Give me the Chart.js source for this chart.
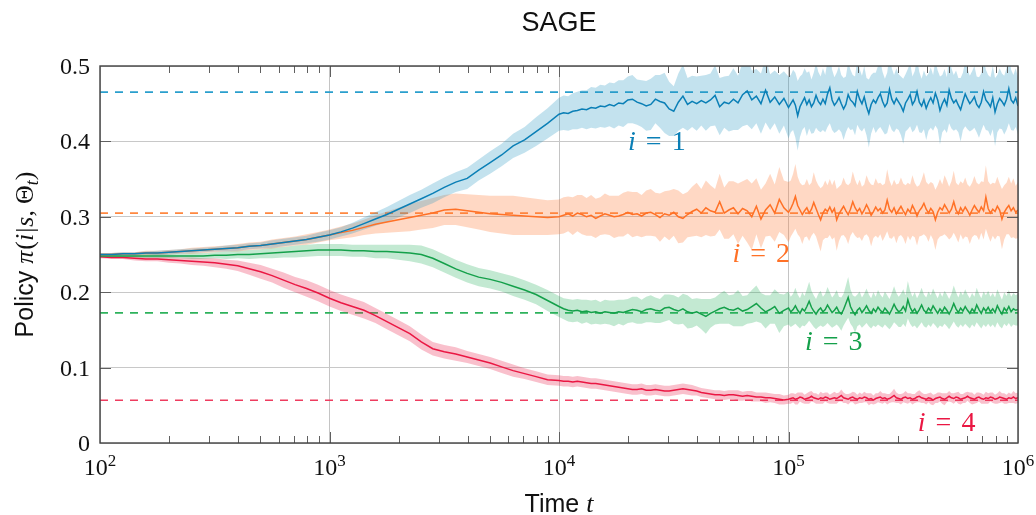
<!DOCTYPE html>
<html>
<head>
<meta charset="utf-8">
<title>SAGE</title>
<script src="https://cdn.jsdelivr.net/npm/chart.js@4.4.1/dist/chart.umd.min.js"></script>
<style>
  html, body { margin: 0; padding: 0; background: #fff; }
  #wrap { width: 1036px; height: 515px; }
</style>
</head>
<body>
<div id="wrap"><canvas id="policyCanvas" width="1036" height="515"></canvas></div>
<script>
(function () {
  "use strict";

  // log10 of time t; coarse while the curves are smooth, finer where they get noisy
  const logTime = [
    2.00, 2.05, 2.10, 2.15, 2.20, 2.25, 2.30, 2.35, 2.40, 2.45,
    2.50, 2.55, 2.60, 2.65, 2.70, 2.75, 2.80, 2.85, 2.90, 2.95,
    3.00, 3.05, 3.10, 3.15, 3.20, 3.25, 3.30, 3.35, 3.40, 3.45,
    3.50, 3.55, 3.60, 3.65, 3.70, 3.75, 3.80, 3.85, 3.90, 3.95,
    4.00, 4.02, 4.04, 4.06, 4.08, 4.10, 4.12, 4.14, 4.16, 4.18,
    4.20, 4.22, 4.24, 4.26, 4.28, 4.30, 4.32, 4.34, 4.36, 4.38,
    4.40, 4.42, 4.44, 4.46, 4.48, 4.50, 4.52, 4.54, 4.56, 4.58,
    4.60, 4.62, 4.64, 4.66, 4.68, 4.70, 4.72, 4.74, 4.76, 4.78,
    4.80, 4.82, 4.84, 4.86, 4.88, 4.90, 4.92, 4.94, 4.96, 4.98,
    5.00, 5.01, 5.02, 5.03, 5.04, 5.05, 5.06, 5.07, 5.08, 5.09,
    5.10, 5.11, 5.12, 5.13, 5.14, 5.15, 5.16, 5.17, 5.18, 5.19,
    5.20, 5.21, 5.22, 5.23, 5.24, 5.25, 5.26, 5.27, 5.28, 5.29,
    5.30, 5.31, 5.32, 5.33, 5.34, 5.35, 5.36, 5.37, 5.38, 5.39,
    5.40, 5.41, 5.42, 5.43, 5.44, 5.45, 5.46, 5.47, 5.48, 5.49,
    5.50, 5.51, 5.52, 5.53, 5.54, 5.55, 5.56, 5.57, 5.58, 5.59,
    5.60, 5.61, 5.62, 5.63, 5.64, 5.65, 5.66, 5.67, 5.68, 5.69,
    5.70, 5.71, 5.72, 5.73, 5.74, 5.75, 5.76, 5.77, 5.78, 5.79,
    5.80, 5.81, 5.82, 5.83, 5.84, 5.85, 5.86, 5.87, 5.88, 5.89,
    5.90, 5.91, 5.92, 5.93, 5.94, 5.95, 5.96, 5.97, 5.98, 5.99,
    6.00
  ];

  // i = 1
  const mean1 = [
    0.250, 0.250, 0.251, 0.251, 0.252, 0.252, 0.253, 0.254, 0.255, 0.256,
    0.257, 0.258, 0.259, 0.261, 0.262, 0.264, 0.266, 0.268, 0.270, 0.273,
    0.276, 0.280, 0.285, 0.291, 0.297, 0.303, 0.310, 0.317, 0.324, 0.331,
    0.339, 0.346, 0.351, 0.362, 0.372, 0.382, 0.394, 0.402, 0.413, 0.424,
    0.436, 0.438, 0.437, 0.440, 0.441, 0.443, 0.442, 0.445, 0.444, 0.447,
    0.446, 0.449, 0.447, 0.451, 0.450, 0.455, 0.456, 0.452, 0.450, 0.447,
    0.449, 0.456, 0.453, 0.451, 0.443, 0.440, 0.452, 0.460, 0.449, 0.453,
    0.450, 0.454, 0.451, 0.455, 0.461, 0.446, 0.452, 0.450, 0.456, 0.451,
    0.462, 0.467, 0.455, 0.460, 0.450, 0.468, 0.452, 0.459, 0.449, 0.457,
    0.445, 0.450, 0.455, 0.448, 0.434, 0.446, 0.452, 0.458, 0.449, 0.455,
    0.446, 0.451, 0.461, 0.453, 0.449, 0.456, 0.450, 0.463, 0.471, 0.455,
    0.448, 0.452, 0.458, 0.450, 0.443, 0.449, 0.462, 0.455, 0.452, 0.447,
    0.466, 0.456, 0.450, 0.459, 0.446, 0.437, 0.449, 0.455, 0.451, 0.458,
    0.463, 0.453, 0.446, 0.451, 0.469, 0.456, 0.450, 0.457, 0.452, 0.447,
    0.440, 0.451, 0.456, 0.462, 0.449, 0.454, 0.466, 0.452, 0.447, 0.455,
    0.444, 0.452, 0.458, 0.451, 0.464, 0.455, 0.441, 0.450, 0.456, 0.448,
    0.468, 0.457, 0.451, 0.455, 0.448, 0.442, 0.453, 0.463, 0.456, 0.450,
    0.454, 0.459, 0.449, 0.445, 0.452, 0.466, 0.455, 0.451, 0.446, 0.458,
    0.439, 0.450, 0.457, 0.453, 0.448, 0.456, 0.470, 0.455, 0.451, 0.458,
    0.447
  ];
  const spread1 = [
    0.002, 0.002, 0.002, 0.002, 0.002, 0.003, 0.003, 0.003, 0.003, 0.003,
    0.003, 0.004, 0.004, 0.004, 0.004, 0.005, 0.005, 0.005, 0.005, 0.006,
    0.006, 0.006, 0.007, 0.008, 0.009, 0.010, 0.011, 0.012, 0.012, 0.013,
    0.013, 0.013, 0.014, 0.014, 0.015, 0.015, 0.016, 0.017, 0.019, 0.020,
    0.022, 0.023, 0.023, 0.024, 0.025, 0.025, 0.026, 0.027, 0.027, 0.028,
    0.028, 0.029, 0.030, 0.030, 0.031, 0.031, 0.032, 0.030, 0.031, 0.033,
    0.034, 0.032, 0.035, 0.040, 0.036, 0.033, 0.038, 0.042, 0.035, 0.034,
    0.036, 0.033, 0.037, 0.035, 0.040, 0.038, 0.034, 0.037, 0.041, 0.036,
    0.042, 0.045, 0.039, 0.036, 0.040, 0.043, 0.037, 0.035, 0.039, 0.036,
    0.041, 0.038, 0.040, 0.043, 0.046, 0.040, 0.037, 0.039, 0.042, 0.038,
    0.036, 0.040, 0.043, 0.039, 0.037, 0.041, 0.038, 0.044, 0.047, 0.040,
    0.037, 0.039, 0.042, 0.038, 0.041, 0.037, 0.043, 0.040, 0.036, 0.039,
    0.044, 0.040, 0.037, 0.041, 0.038, 0.045, 0.039, 0.036, 0.040, 0.042,
    0.044, 0.039, 0.037, 0.040, 0.046, 0.041, 0.038, 0.040, 0.037, 0.039,
    0.043, 0.038, 0.040, 0.042, 0.037, 0.039, 0.044, 0.040, 0.036, 0.039,
    0.042, 0.038, 0.040, 0.037, 0.043, 0.039, 0.045, 0.038, 0.040, 0.037,
    0.044, 0.040, 0.037, 0.039, 0.036, 0.042, 0.038, 0.043, 0.040, 0.037,
    0.039, 0.041, 0.037, 0.040, 0.038, 0.044, 0.040, 0.037, 0.039, 0.042,
    0.045, 0.038, 0.040, 0.037, 0.039, 0.041, 0.046, 0.040, 0.037, 0.039,
    0.038
  ];

  // i = 2
  const mean2 = [
    0.250, 0.250, 0.251, 0.251, 0.252, 0.252, 0.253, 0.254, 0.255, 0.256,
    0.257, 0.258, 0.259, 0.261, 0.262, 0.264, 0.266, 0.268, 0.270, 0.273,
    0.276, 0.279, 0.282, 0.286, 0.290, 0.293, 0.296, 0.299, 0.302, 0.305,
    0.309, 0.310, 0.308, 0.306, 0.304, 0.303, 0.302, 0.301, 0.300, 0.299,
    0.300, 0.302, 0.304, 0.301, 0.305, 0.303, 0.300, 0.302, 0.298, 0.301,
    0.304, 0.302, 0.300, 0.301, 0.303, 0.306, 0.303, 0.304, 0.301, 0.305,
    0.306, 0.303, 0.299, 0.304, 0.302, 0.306, 0.300, 0.298, 0.303, 0.307,
    0.310, 0.305, 0.312, 0.308, 0.306, 0.320, 0.305, 0.309, 0.312, 0.304,
    0.311, 0.308, 0.300, 0.314, 0.297, 0.309, 0.316, 0.305, 0.323, 0.312,
    0.306, 0.311, 0.318, 0.327, 0.315, 0.309, 0.303, 0.308, 0.312, 0.305,
    0.310, 0.319, 0.311, 0.303, 0.296, 0.305, 0.310, 0.307, 0.313, 0.306,
    0.311, 0.296, 0.304, 0.309, 0.314, 0.308, 0.303, 0.310, 0.320, 0.312,
    0.307, 0.311, 0.304, 0.309, 0.316, 0.310, 0.302, 0.307, 0.313, 0.308,
    0.311, 0.305, 0.309, 0.322, 0.310, 0.306, 0.312, 0.304, 0.309, 0.314,
    0.308, 0.303, 0.310, 0.306, 0.315, 0.309, 0.301, 0.308, 0.312, 0.318,
    0.310, 0.305, 0.311, 0.307, 0.296, 0.306, 0.312, 0.309, 0.316, 0.311,
    0.305, 0.310, 0.320, 0.309, 0.304, 0.312, 0.307, 0.313, 0.308, 0.302,
    0.309, 0.315, 0.310, 0.306, 0.313, 0.308, 0.326, 0.311, 0.305, 0.310,
    0.307, 0.314, 0.309, 0.297, 0.306, 0.311, 0.315, 0.308, 0.312, 0.306,
    0.309
  ];
  const spread2 = [
    0.002, 0.002, 0.002, 0.002, 0.003, 0.003, 0.003, 0.003, 0.004, 0.004,
    0.004, 0.004, 0.005, 0.005, 0.005, 0.006, 0.006, 0.006, 0.007, 0.007,
    0.007, 0.008, 0.009, 0.010, 0.012, 0.014, 0.016, 0.018, 0.019, 0.020,
    0.020, 0.021, 0.022, 0.023, 0.024, 0.025, 0.026, 0.025, 0.024, 0.023,
    0.023, 0.024, 0.023, 0.025, 0.024, 0.026, 0.025, 0.027, 0.026, 0.025,
    0.027, 0.026, 0.028, 0.027, 0.029, 0.028, 0.030, 0.029, 0.028, 0.030,
    0.031, 0.029, 0.032, 0.030, 0.033, 0.031, 0.035, 0.032, 0.030, 0.033,
    0.035, 0.032, 0.036, 0.034, 0.031, 0.037, 0.034, 0.038, 0.035, 0.040,
    0.036, 0.042, 0.044, 0.037, 0.039, 0.035, 0.041, 0.038, 0.043, 0.036,
    0.040, 0.037, 0.039, 0.043, 0.038, 0.036, 0.039, 0.035, 0.038, 0.037,
    0.035, 0.040, 0.037, 0.039, 0.042, 0.036, 0.038, 0.035, 0.037, 0.036,
    0.038, 0.041, 0.036, 0.034, 0.038, 0.036, 0.039, 0.035, 0.040, 0.037,
    0.035, 0.038, 0.036, 0.034, 0.039, 0.037, 0.041, 0.035, 0.038, 0.036,
    0.034, 0.037, 0.035, 0.041, 0.038, 0.035, 0.037, 0.039, 0.035, 0.038,
    0.036, 0.039, 0.035, 0.037, 0.040, 0.036, 0.039, 0.034, 0.037, 0.041,
    0.036, 0.038, 0.035, 0.037, 0.040, 0.036, 0.038, 0.034, 0.039, 0.037,
    0.035, 0.037, 0.041, 0.036, 0.038, 0.035, 0.037, 0.039, 0.035, 0.038,
    0.036, 0.039, 0.035, 0.037, 0.034, 0.038, 0.042, 0.036, 0.038, 0.035,
    0.037, 0.039, 0.035, 0.040, 0.036, 0.034, 0.038, 0.036, 0.039, 0.035,
    0.037
  ];

  // i = 3
  const mean3 = [
    0.248, 0.248, 0.248, 0.248, 0.248, 0.248, 0.248, 0.248, 0.248, 0.248,
    0.249, 0.249, 0.250, 0.250, 0.251, 0.252, 0.253, 0.254, 0.255, 0.256,
    0.256, 0.256, 0.255, 0.255, 0.254, 0.254, 0.253, 0.252, 0.250, 0.245,
    0.238, 0.231, 0.225, 0.220, 0.217, 0.213, 0.208, 0.203, 0.197, 0.189,
    0.181, 0.178, 0.176, 0.175, 0.176, 0.174, 0.175, 0.173, 0.174, 0.172,
    0.174, 0.173, 0.172, 0.174, 0.173, 0.175, 0.177, 0.176, 0.174, 0.177,
    0.178, 0.176, 0.175, 0.179, 0.180, 0.177, 0.175, 0.178, 0.174, 0.172,
    0.174, 0.171, 0.168, 0.172, 0.175, 0.178, 0.180, 0.177, 0.176, 0.179,
    0.175, 0.177, 0.181, 0.185, 0.179, 0.174, 0.177, 0.181, 0.172, 0.176,
    0.179, 0.174, 0.177, 0.182, 0.176, 0.172, 0.178, 0.175, 0.181, 0.188,
    0.180, 0.175, 0.171, 0.176, 0.179, 0.174, 0.177, 0.183, 0.178, 0.173,
    0.176, 0.180, 0.174, 0.171, 0.177, 0.185, 0.193, 0.181, 0.175, 0.170,
    0.176, 0.179, 0.173, 0.177, 0.182, 0.176, 0.172, 0.178, 0.174, 0.180,
    0.176, 0.173, 0.179, 0.175, 0.171, 0.177, 0.184, 0.178, 0.174, 0.176,
    0.181, 0.175, 0.190, 0.180, 0.174, 0.178, 0.172, 0.177, 0.183, 0.176,
    0.173, 0.179, 0.175, 0.182, 0.177, 0.172, 0.178, 0.174, 0.180, 0.176,
    0.171, 0.177, 0.185, 0.178, 0.173, 0.179, 0.175, 0.181, 0.176, 0.172,
    0.178, 0.174, 0.183, 0.177, 0.172, 0.179, 0.175, 0.180, 0.174, 0.178,
    0.173, 0.182, 0.176, 0.171, 0.179, 0.175, 0.181, 0.174, 0.178, 0.176,
    0.177
  ];
  const spread3 = [
    0.002, 0.002, 0.002, 0.002, 0.003, 0.003, 0.003, 0.003, 0.004, 0.004,
    0.004, 0.005, 0.005, 0.006, 0.006, 0.007, 0.007, 0.008, 0.008, 0.008,
    0.008, 0.008, 0.008, 0.008, 0.009, 0.009, 0.010, 0.011, 0.012, 0.012,
    0.012, 0.012, 0.012, 0.012, 0.012, 0.012, 0.013, 0.013, 0.013, 0.014,
    0.014, 0.014, 0.015, 0.015, 0.015, 0.016, 0.015, 0.016, 0.016, 0.015,
    0.016, 0.016, 0.017, 0.016, 0.017, 0.016, 0.017, 0.018, 0.016, 0.017,
    0.018, 0.017, 0.016, 0.018, 0.017, 0.019, 0.018, 0.020, 0.022, 0.019,
    0.018, 0.020, 0.023, 0.019, 0.018, 0.020, 0.022, 0.019, 0.021, 0.024,
    0.020, 0.019, 0.022, 0.024, 0.020, 0.022, 0.019, 0.023, 0.026, 0.021,
    0.022, 0.020, 0.021, 0.024, 0.021, 0.020, 0.022, 0.020, 0.023, 0.026,
    0.022, 0.021, 0.020, 0.022, 0.023, 0.020, 0.021, 0.024, 0.022, 0.020,
    0.021, 0.023, 0.020, 0.022, 0.021, 0.024, 0.027, 0.023, 0.021, 0.024,
    0.021, 0.022, 0.020, 0.021, 0.023, 0.021, 0.020, 0.022, 0.020, 0.023,
    0.021, 0.020, 0.022, 0.021, 0.020, 0.022, 0.024, 0.021, 0.020, 0.022,
    0.023, 0.021, 0.025, 0.022, 0.020, 0.022, 0.020, 0.021, 0.023, 0.021,
    0.020, 0.022, 0.021, 0.023, 0.021, 0.020, 0.022, 0.020, 0.022, 0.021,
    0.020, 0.021, 0.024, 0.022, 0.020, 0.022, 0.021, 0.023, 0.021, 0.020,
    0.021, 0.020, 0.023, 0.021, 0.020, 0.022, 0.021, 0.022, 0.020, 0.021,
    0.020, 0.022, 0.021, 0.019, 0.021, 0.020, 0.022, 0.020, 0.021, 0.020,
    0.021
  ];

  // i = 4
  const mean4 = [
    0.247, 0.246, 0.246, 0.245, 0.244, 0.244, 0.243, 0.242, 0.241, 0.240,
    0.239, 0.237, 0.235, 0.231, 0.227, 0.222, 0.216, 0.210, 0.205, 0.199,
    0.192, 0.186, 0.181, 0.176, 0.169, 0.161, 0.153, 0.145, 0.134, 0.125,
    0.121, 0.118, 0.114, 0.110, 0.106, 0.101, 0.096, 0.092, 0.088, 0.084,
    0.083, 0.082, 0.082, 0.081, 0.082, 0.081, 0.080, 0.079, 0.079, 0.078,
    0.077, 0.076, 0.075, 0.074, 0.073, 0.072, 0.071, 0.071, 0.072, 0.070,
    0.070, 0.071, 0.070, 0.069, 0.069, 0.070, 0.071, 0.072, 0.071, 0.070,
    0.069, 0.067, 0.066, 0.065, 0.064, 0.064, 0.063, 0.064, 0.064, 0.063,
    0.062, 0.063, 0.062, 0.061, 0.061, 0.060, 0.060, 0.059, 0.058, 0.057,
    0.058, 0.059, 0.060, 0.058, 0.059, 0.061, 0.060, 0.058, 0.059, 0.060,
    0.062, 0.060, 0.059, 0.058, 0.060, 0.059, 0.061, 0.060, 0.058, 0.059,
    0.060, 0.059, 0.061, 0.063, 0.060, 0.059, 0.058, 0.060, 0.061, 0.059,
    0.058, 0.060, 0.059, 0.061, 0.060, 0.058, 0.059, 0.057, 0.059, 0.060,
    0.061, 0.059, 0.060, 0.058, 0.059, 0.061, 0.063, 0.060, 0.059, 0.058,
    0.060, 0.061, 0.059, 0.060, 0.058, 0.059, 0.061, 0.062, 0.060, 0.059,
    0.058, 0.060, 0.059, 0.057, 0.059, 0.060, 0.061, 0.059, 0.058, 0.060,
    0.062, 0.060, 0.059, 0.061, 0.060, 0.058, 0.059, 0.060, 0.062, 0.060,
    0.059, 0.058, 0.060, 0.061, 0.059, 0.058, 0.060, 0.059, 0.061, 0.060,
    0.058, 0.059, 0.061, 0.060, 0.059, 0.058, 0.060, 0.059, 0.061, 0.059,
    0.060
  ];
  const spread4 = [
    0.002, 0.002, 0.002, 0.003, 0.003, 0.003, 0.004, 0.004, 0.005, 0.005,
    0.006, 0.006, 0.007, 0.008, 0.009, 0.009, 0.010, 0.010, 0.011, 0.011,
    0.011, 0.011, 0.011, 0.011, 0.010, 0.010, 0.010, 0.010, 0.010, 0.009,
    0.009, 0.009, 0.008, 0.008, 0.008, 0.008, 0.008, 0.007, 0.007, 0.007,
    0.007, 0.007, 0.007, 0.007, 0.007, 0.007, 0.007, 0.007, 0.007, 0.007,
    0.007, 0.007, 0.007, 0.007, 0.007, 0.007, 0.007, 0.007, 0.007, 0.007,
    0.007, 0.007, 0.007, 0.007, 0.007, 0.007, 0.007, 0.007, 0.007, 0.007,
    0.006, 0.006, 0.006, 0.006, 0.006, 0.006, 0.006, 0.006, 0.006, 0.007,
    0.006, 0.006, 0.007, 0.006, 0.006, 0.007, 0.006, 0.006, 0.007, 0.006,
    0.006, 0.007, 0.006, 0.007, 0.008, 0.006, 0.007, 0.006, 0.007, 0.008,
    0.007, 0.006, 0.007, 0.006, 0.008, 0.007, 0.006, 0.007, 0.006, 0.007,
    0.008, 0.007, 0.006, 0.008, 0.007, 0.006, 0.007, 0.006, 0.007, 0.008,
    0.006, 0.007, 0.006, 0.007, 0.006, 0.008, 0.007, 0.006, 0.007, 0.006,
    0.008, 0.007, 0.006, 0.007, 0.006, 0.007, 0.009, 0.007, 0.006, 0.007,
    0.006, 0.008, 0.007, 0.006, 0.007, 0.006, 0.007, 0.008, 0.007, 0.006,
    0.007, 0.006, 0.008, 0.007, 0.006, 0.007, 0.006, 0.007, 0.008, 0.006,
    0.007, 0.006, 0.007, 0.006, 0.008, 0.007, 0.006, 0.007, 0.006, 0.007,
    0.008, 0.006, 0.007, 0.006, 0.007, 0.006, 0.008, 0.007, 0.006, 0.007,
    0.006, 0.007, 0.008, 0.006, 0.007, 0.006, 0.007, 0.006, 0.008, 0.007,
    0.007
  ];

  const seriesIds = [1, 2, 3, 4];
  const seriesMeans = [mean1, mean2, mean3, mean4];
  const seriesSpreads = [spread1, spread2, spread3, spread4];
  // optimal policy for each action (dashed lines)
  const targetPolicy = [0.4654, 0.3049, 0.1726, 0.0566];

  const yTicks = [0, 0.1, 0.2, 0.3, 0.4, 0.5];
  const xDecades = [2, 3, 4, 5, 6];
  const minorSteps = [2, 3, 4, 5, 6, 7, 8, 9];

  const SERIF = "'Liberation Serif', 'DejaVu Serif', serif";
  const SANS = "'Liberation Sans', 'DejaVu Sans', sans-serif";

  const palette = [
    { line: "#0a7fb6", band: "rgba(40,150,195,0.28)", dash: "#2a9fcd" },
    { line: "#ff7126", band: "rgba(255,125,60,0.30)", dash: "#ff8840" },
    { line: "#14a04a", band: "rgba(40,175,95,0.28)", dash: "#2eb25c" },
    { line: "#ea1743", band: "rgba(235,45,85,0.30)", dash: "#ee3c5f" }
  ];

  // where each "i = n" tag sits, in data coordinates (left edge, baseline)
  const tagAnchors = [
    { t: 2.0e4, y: 0.389 },
    { t: 5.7e4, y: 0.2407 },
    { t: 1.18e5, y: 0.1239 },
    { t: 3.66e5, y: 0.0154 }
  ];

  seriesMeans.forEach((m, k) => {
    if (m.length !== logTime.length || seriesSpreads[k].length !== logTime.length) {
      console.warn("length mismatch for series", k + 1, m.length, seriesSpreads[k].length);
    }
  });

  function toPoints(values, offset, sign) {
    return logTime.map((e, idx) => ({
      x: Math.pow(10, e),
      y: values[idx] + sign * (offset ? offset[idx] : 0)
    }));
  }

  const datasets = [];
  seriesIds.forEach((id, k) => {
    const c = palette[k];
    datasets.push({
      label: "upper " + id,
      data: toPoints(seriesMeans[k], seriesSpreads[k], 1),
      borderWidth: 0,
      pointRadius: 0,
      backgroundColor: c.band,
      fill: "+1",
      order: 20
    });
    datasets.push({
      label: "lower " + id,
      data: toPoints(seriesMeans[k], seriesSpreads[k], -1),
      borderWidth: 0,
      pointRadius: 0,
      fill: false,
      order: 20
    });
    datasets.push({
      label: "i = " + id,
      data: toPoints(seriesMeans[k], null, 0),
      borderColor: c.line,
      borderWidth: 1.5,
      pointRadius: 0,
      fill: false,
      order: 1
    });
  });
  targetPolicy.forEach((v, k) => {
    datasets.push({
      label: "target " + (k + 1),
      data: [{ x: 100, y: v }, { x: 1e6, y: v }],
      borderColor: palette[k].dash,
      borderWidth: 1.6,
      borderDash: [8, 7],
      pointRadius: 0,
      fill: false,
      order: 30
    });
  });

  function isDecade(v) {
    const l = Math.log10(v);
    return Math.abs(l - Math.round(l)) < 1e-9;
  }

  function drawRuns(ctx, runs, x, y, align) {
    let total = 0;
    runs.forEach(r => {
      ctx.font = r.font;
      r.w = ctx.measureText(r.text).width;
      total += r.w + (r.gap || 0);
    });
    let cx = align === "center" ? x - total / 2 : align === "right" ? x - total : x;
    runs.forEach(r => {
      ctx.font = r.font;
      ctx.fillText(r.text, cx, y + (r.dy || 0));
      cx += r.w + (r.gap || 0);
    });
  }

  const backdrop = {
    id: "backdrop",
    beforeDraw(chart) {
      const ctx = chart.ctx;
      ctx.save();
      ctx.fillStyle = "#fff";
      ctx.fillRect(0, 0, chart.width, chart.height);
      ctx.restore();
    }
  };

  const axesDecor = {
    id: "axesDecor",
    afterDatasetsDraw(chart) {
      const ctx = chart.ctx;
      const area = chart.chartArea;
      const xs = chart.scales.x;
      const ys = chart.scales.y;
      ctx.save();

      // inward tick marks: decades long, 2..9 short, on top and bottom
      ctx.strokeStyle = "#606060";
      ctx.lineWidth = 1;
      ctx.beginPath();
      xDecades.forEach(n => {
        const marks = [{ v: Math.pow(10, n), len: 11 }];
        if (n < xDecades[xDecades.length - 1]) {
          minorSteps.forEach(m => marks.push({ v: m * Math.pow(10, n), len: 7 }));
        }
        marks.forEach(mk => {
          if (mk.v <= xs.min || mk.v >= xs.max) return;
          const px = Math.round(xs.getPixelForValue(mk.v)) + 0.5;
          ctx.moveTo(px, area.bottom);
          ctx.lineTo(px, area.bottom - mk.len);
          ctx.moveTo(px, area.top);
          ctx.lineTo(px, area.top + mk.len);
        });
      });
      yTicks.forEach(v => {
        if (v <= ys.min || v >= ys.max) return;
        const py = Math.round(ys.getPixelForValue(v)) + 0.5;
        ctx.moveTo(area.left, py);
        ctx.lineTo(area.left + 11, py);
        ctx.moveTo(area.right, py);
        ctx.lineTo(area.right - 11, py);
      });
      ctx.stroke();

      // frame
      ctx.strokeStyle = "#404040";
      ctx.lineWidth = 1.4;
      ctx.strokeRect(area.left, area.top, area.right - area.left, area.bottom - area.top);

      ctx.fillStyle = "#111";
      ctx.textAlign = "left";
      ctx.textBaseline = "alphabetic";

      // x tick labels 10^n
      xDecades.forEach(n => {
        const px = xs.getPixelForValue(Math.pow(10, n));
        drawRuns(ctx, [
          { text: "10", font: "24px " + SERIF },
          { text: String(n), font: "17px " + SERIF, dy: -9 }
        ], px, 475, "center");
      });

      // y tick labels
      yTicks.forEach(v => {
        const py = ys.getPixelForValue(v);
        drawRuns(ctx, [{ text: v === 0 ? "0" : v.toFixed(1), font: "24px " + SERIF }], 90, py + 8, "right");
      });

      // title and axis titles
      const midX = (area.left + area.right) / 2;
      const midY = (area.top + area.bottom) / 2;
      drawRuns(ctx, [{ text: "SAGE", font: "27px " + SANS }], midX, 31, "center");
      drawRuns(ctx, [
        { text: "Time", font: "25px " + SANS, gap: 7 },
        { text: "t", font: "italic 26px " + SERIF }
      ], midX, 512, "center");

      ctx.save();
      ctx.translate(33, midY);
      ctx.rotate(-Math.PI / 2);
      drawRuns(ctx, [
        { text: "Policy", font: "25px " + SANS, gap: 7 },
        { text: "\u03c0", font: "italic 26px " + SERIF, gap: 1 },
        { text: "(", font: "26px " + SERIF },
        { text: "i", font: "italic 26px " + SERIF, gap: 1 },
        { text: "|", font: "26px " + SERIF, gap: 1 },
        { text: "s", font: "italic 26px " + SERIF },
        { text: ",", font: "26px " + SERIF, gap: 6 },
        { text: "\u0398", font: "26px " + SERIF },
        { text: "t", font: "italic 18px " + SERIF, dy: 5 },
        { text: ")", font: "26px " + SERIF }
      ], 0, 0, "center");
      ctx.restore();

      // series tags
      tagAnchors.forEach((a, k) => {
        ctx.fillStyle = palette[k].line;
        drawRuns(ctx, [
          { text: "i", font: "italic 28px " + SERIF, gap: 10 },
          { text: "=", font: "28px " + SERIF, gap: 10 },
          { text: String(seriesIds[k]), font: "28px " + SERIF }
        ], xs.getPixelForValue(a.t), ys.getPixelForValue(a.y), "left");
      });

      ctx.restore();
    }
  };

  const canvas = document.getElementById("policyCanvas");
  new Chart(canvas, {
    type: "line",
    data: { datasets },
    options: {
      responsive: false,
      animation: false,
      events: [],
      layout: { padding: { left: 100, right: 18, top: 66, bottom: 72 } },
      plugins: {
        legend: { display: false },
        tooltip: { enabled: false },
        title: { display: false }
      },
      scales: {
        x: {
          type: "logarithmic",
          min: 100,
          max: 1e6,
          border: { display: false },
          ticks: { display: false },
          grid: {
            drawTicks: false,
            lineWidth: 1,
            color: ctx => (ctx.tick && isDecade(ctx.tick.value) ? "#c4c4c4" : "rgba(0,0,0,0)")
          },
          afterFit(scale) { scale.height = 0; }
        },
        y: {
          type: "linear",
          min: 0,
          max: 0.5,
          border: { display: false },
          ticks: { display: false, stepSize: 0.1 },
          grid: { drawTicks: false, lineWidth: 1, color: "#c8c8c8" },
          afterFit(scale) { scale.width = 0; }
        }
      }
    },
    plugins: [backdrop, axesDecor]
  });
})();
</script>
</body>
</html>
